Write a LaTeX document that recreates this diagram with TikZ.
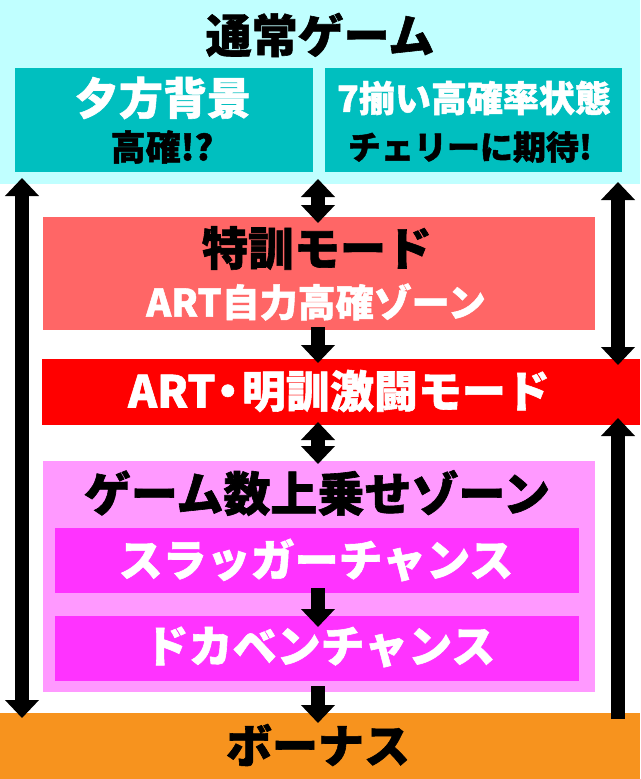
\documentclass[tikz,border=0pt]{standalone}
\usepackage{fontspec}
\setmainfont{Noto Sans CJK JP}[BoldFeatures={FakeBold=1.3}]
\usetikzlibrary{arrows.meta}
\definecolor{cyanbg}{RGB}{192,255,255}
\definecolor{tealbox}{RGB}{0,191,191}
\definecolor{salmon}{RGB}{255,102,102}
\definecolor{redbox}{RGB}{255,0,0}
\definecolor{lpink}{RGB}{255,153,255}
\definecolor{magbox}{RGB}{255,51,255}
\definecolor{orangebox}{RGB}{247,147,30}
\newcommand\jfs[1]{\bfseries\fontsize{#1}{#1}\selectfont}
\begin{document}
\begin{tikzpicture}[x=1pt,y=-1pt,
  box/.style={inner sep=0pt, outer sep=0pt, draw=none},
  txt/.style={inner sep=0pt, outer sep=0pt},
  arr/.style={line width=14pt, -{Triangle[width=33pt,length=18pt]}},
  darr/.style={line width=14pt, {Triangle[width=33pt,length=18pt]}-{Triangle[width=33pt,length=18pt]}}]
\useasboundingbox (0,0) rectangle (640,779);
% boxes
\node[box, fill=cyanbg, minimum width=640pt, minimum height=184pt] (top) at (320,92) {};
\node[box, fill=tealbox, minimum width=298pt, minimum height=104pt] (tl) at (164,120) {};
\node[box, fill=tealbox, minimum width=297pt, minimum height=104pt] (tr) at (473.5,120) {};
\node[box, fill=salmon, minimum width=552pt, minimum height=113pt] (toku) at (319,273.5) {};
\node[box, fill=redbox, minimum width=598pt, minimum height=66pt] (art) at (341,392) {};
\node[box, fill=lpink, minimum width=552pt, minimum height=231pt] (zone) at (319,576.5) {};
\node[box, fill=magbox, minimum width=524pt, minimum height=65pt] (slug) at (317,560.5) {};
\node[box, fill=magbox, minimum width=524pt, minimum height=65pt] (doka) at (317,648.5) {};
\node[box, fill=orangebox, minimum width=640pt, minimum height=66pt] (bonus) at (320,746) {};
% texts
\node[txt, font=\jfs{46}] (t0) at (320,35) {通常ゲーム};
\node[txt, font=\jfs{44}, text=white] (tl1) at (163,98) {夕方背景};
\node[txt, font=\jfs{35}] (tl2) at (162,147) {高確!?};
\node[txt, font=\jfs{36}, text=white] (tr1) at (474,98) {7揃い高確率状態};
\node[txt, font=\jfs{33}] (tr2) at (470,147) {チェリーに期待!};
\node[txt, font=\jfs{46}] (k1) at (317,248) {特訓モード};
\node[txt, font=\jfs{38}, text=white] (k2) at (316,302) {ART自力高確ゾーン};
\node[txt, font=\jfs{44}, text=white] (a1) at (339,391) {ART\kern-0.22em・\kern-0.18em明訓激闘モード};
\node[txt, font=\jfs{47}] (z1) at (317,493) {ゲーム数上乗せゾーン};
\node[txt, font=\jfs{44}, text=white] (s1) at (316,560) {スラッガーチャンス};
\node[txt, font=\jfs{44}, text=white] (d1) at (320,647) {ドカベンチャンス};
\node[txt, font=\jfs{46}] (b1) at (318,745) {ボーナス};
% arrow columns
\coordinate (cx) at (318,0);
\coordinate (lx) at (22,0);
\coordinate (rx) at (618,0);
% center arrows
\draw[darr] ([yshift=5pt]top.south -| cx) -- ([yshift=-6pt]toku.north -| cx);
\draw[arr] ([yshift=3pt]toku.south -| cx) -- ([yshift=-4pt]art.north -| cx);
\draw[darr] ([yshift=3pt]art.south -| cx) -- ([yshift=-3pt]zone.north -| cx);
\draw[arr] ([yshift=5pt]slug.south -| cx) -- ([yshift=-11pt]doka.north -| cx);
\draw[arr] ([yshift=-5pt]doka.south -| cx) -- ([yshift=-10pt]bonus.north -| cx);
% side arrows
\draw[darr] ([yshift=6pt]top.south -| lx) -- ([yshift=-5pt]bonus.north -| lx);
\draw[darr] ([yshift=2pt]top.south -| rx) -- ([yshift=-6pt]art.north -| rx);
\draw[arr] ([yshift=-6pt]bonus.north -| rx) -- ([yshift=7pt]art.south -| rx);
\end{tikzpicture}
\end{document}
